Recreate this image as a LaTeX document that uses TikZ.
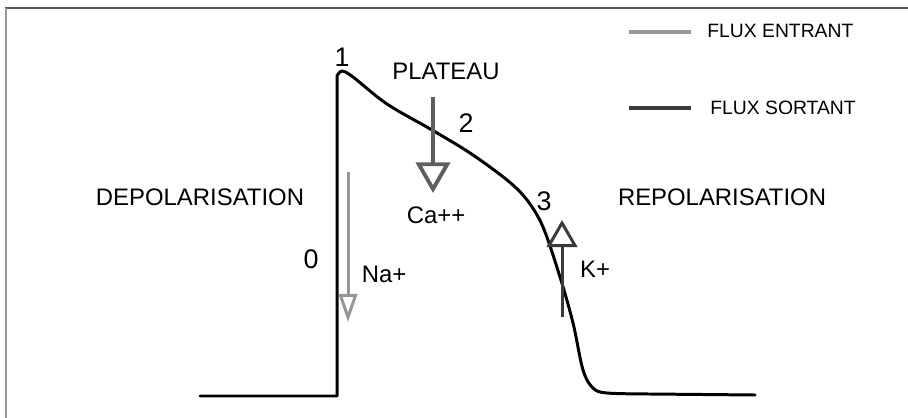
\documentclass[tikz,border=0pt]{standalone}
\usepackage{fontspec}
\setmainfont{Liberation Sans}
\usetikzlibrary{arrows.meta}
\definecolor{griscadre}{HTML}{555555}
\definecolor{grisbord}{HTML}{9A9A9A}
\definecolor{grisna}{HTML}{959595}
\definecolor{grisca}{HTML}{5E5E5E}
\definecolor{grisk}{HTML}{3A3A3A}
\tikzset{
  etiq/.style={font=\fontsize{13.6}{16}\selectfont, inner sep=0pt},
  chiffre/.style={font=\fontsize{15.3}{18}\selectfont, inner sep=0pt},
  legende/.style={font=\fontsize{11}{13}\selectfont, inner sep=0pt, anchor=west},
  courbe/.style={line width=1.7pt, line join=round, line cap=round},
}

\begin{document}
\begin{tikzpicture}[x=0.02cm, y=-0.02cm]
\useasboundingbox (0,0) rectangle (908,418);
% cadre
\draw[griscadre, line width=1.1pt] (5,8) -- (908,8);
\draw[grisbord, line width=1.1pt] (6,8) -- (6,418);
% potentiel d'action
\draw[courbe] (200,396) -- (337,396) -- (337,76)
  plot[smooth, tension=0.55] coordinates {(337,76) (342,71) (353,77) (387,104) (432,130)
    (470,153) (507,180) (527,200) (543,227) (560,277) (573,323) (583,370) (593,388)
    (607,393) (650,394)} -- (755,395);
% etiquettes
\node[chiffre] (n1) at (342,57) {1};
\node[etiq] (plateau) at (446,71) {PLATEAU};
\node[chiffre] (n2) at (466,123) {2};
\node[chiffre] (n3) at (544,201) {3};
\node[chiffre] (n0) at (311,259) {0};
\node[etiq] (depol) at (200,197) {DEPOLARISATION};
\node[etiq] (repol) at (722,197) {REPOLARISATION};
\node[etiq] (ca) at (436,215) {Ca++};
\node[etiq] (na) at (384,274) {Na+};
\node[etiq] (k) at (595,269) {K+};
% flux ioniques
\coordinate (na-a) at (348,172); \coordinate (na-b) at (348,322);
\coordinate (ca-a) at (433,97);  \coordinate (ca-b) at (433,193);
\coordinate (k-a) at (562,317);  \coordinate (k-b) at (562,220);
\draw[grisna, line width=1.7pt, -{Triangle[open, length=16pt, width=10.5pt]}] (na-a) -- (na-b);
\draw[grisca, line width=2.2pt, -{Triangle[open, length=17.5pt, width=19.5pt]}] (ca-a) -- (ca-b);
\draw[grisk, line width=1.7pt, -{Triangle[open, length=15.5pt, width=17.5pt]}] (k-a) -- (k-b);
% legende
\node[legende] (entrant) at (707,31) {FLUX ENTRANT};
\node[legende] (sortant) at (710,107.5) {FLUX SORTANT};
\coordinate (le-a) at (629,32);  \coordinate (le-b) at (691,32);
\coordinate (ls-a) at (629,108); \coordinate (ls-b) at (691,108);
\draw[grisna, line width=1.8pt] (le-a) -- (le-b);
\draw[grisk, line width=1.8pt] (ls-a) -- (ls-b);
\end{tikzpicture}
\end{document}
